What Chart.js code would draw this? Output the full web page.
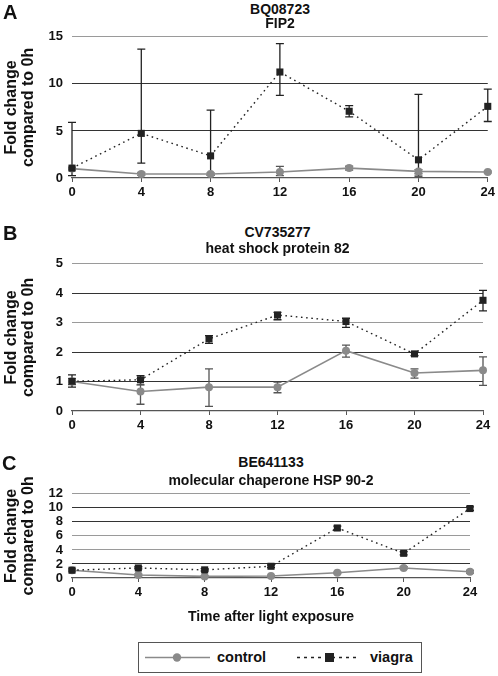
<!DOCTYPE html>
<html><head><meta charset="utf-8">
<script src="https://cdn.jsdelivr.net/npm/chart.js@4/dist/chart.umd.min.js"></script>
<style>
body{margin:0;width:498px;height:676px;position:relative;background:#fff;font-family:'Liberation Sans',Arial,sans-serif;overflow:hidden}
canvas{position:absolute;left:0;z-index:1}
.t{position:absolute;font-weight:bold;font-size:14px;line-height:14px;text-align:center;color:#111;white-space:nowrap;z-index:2}
.L{position:absolute;font-weight:bold;font-size:20px;line-height:20px;color:#111;z-index:2}
#legend{position:absolute;left:138px;top:642px;width:282px;height:29px;border:1px solid #555;z-index:2}
#legend span{position:absolute;top:7px;font-weight:bold;font-size:14.5px;line-height:15px;color:#111}
</style></head><body>
<div class="L" style="left:3px;top:2px">A</div>
<div class="L" style="left:3px;top:223px">B</div>
<div class="L" style="left:2px;top:453px">C</div>
<div class="t" style="left:72px;width:416px;top:1.5px">BQ08723</div>
<div class="t" style="left:72px;width:416px;top:16px">FIP2</div>
<div class="t" style="left:72px;width:411px;top:225px">CV735277</div>
<div class="t" style="left:72px;width:411px;top:241px">heat shock protein 82</div>
<div class="t" style="left:72px;width:398px;top:455px">BE641133</div>
<div class="t" style="left:72px;width:398px;top:473px">molecular chaperone HSP 90-2</div>
<canvas id="cA" width="498" height="180" style="top:20px"></canvas>
<canvas id="cB" width="498" height="186" style="top:247px"></canvas>
<canvas id="cC" width="498" height="150" style="top:477px"></canvas>
<div id="legend">
<svg width="282" height="29" style="position:absolute;left:0;top:0">
<line x1="6" y1="14.5" x2="71" y2="14.5" stroke="#8a8a8a" stroke-width="1.5"/>
<circle cx="38" cy="14.5" r="4.2" fill="#8a8a8a"/>
<line x1="158" y1="14.5" x2="221" y2="14.5" stroke="#222" stroke-width="1.5" stroke-dasharray="3,4"/>
<rect x="186" y="10" width="9" height="9" fill="#222"/>
</svg>
<span style="left:78px">control</span>
<span style="left:231px">viagra</span>
</div>
<script>
// ---- data ----
const hours = [0, 4, 8, 12, 16, 20, 24];

const aViagra   = [1.05, 4.74, 2.35, 11.26, 7.09, 1.93, 7.61];
const aViagraHi = [5.9, 13.7, 7.2, 14.28, 7.68, 8.88, 9.44];
const aViagraLo = [0.25, 1.58, 0.3, 8.77, 6.5, 0.2, 6.0];
const aControl   = [1.0, 0.42, 0.42, 0.63, 1.05, 0.7, 0.63];
const aControlHi = [1.1, 0.6, 0.55, 1.23, 1.25, 0.9, 0.72];
const aControlLo = [0.9, 0.28, 0.3, 0.25, 0.85, 0.45, 0.55];
const aYTicks = [0, 5, 10, 15];

const bViagra   = [1.01, 1.06, 2.45, 3.26, 3.04, 1.94, 3.76];
const bViagraHi = [1.23, 1.2, 2.56, 3.35, 3.15, 2.0, 4.1];
const bViagraLo = [0.81, 0.89, 2.3, 3.1, 2.84, 1.88, 3.4];
const bControl   = [1.0, 0.66, 0.81, 0.81, 2.05, 1.29, 1.38];
const bControlHi = [1.1, 1.1, 1.43, 0.98, 2.24, 1.43, 1.84];
const bControlLo = [0.9, 0.23, 0.16, 0.62, 1.83, 1.12, 0.87];
const bYTicks = [0, 1, 2, 3, 4, 5];

const cViagra   = [1.11, 1.43, 1.16, 1.67, 7.13, 3.52, 9.9];
const cViagraHi = [1.3, 1.6, 1.35, 1.85, 7.4, 3.75, 10.15];
const cViagraLo = [0.95, 1.3, 1.0, 1.5, 6.9, 3.3, 9.65];
const cControl   = [1.1, 0.42, 0.23, 0.28, 0.74, 1.43, 0.88];
const cControlHi = [1.2, 0.55, 0.3, 0.38, 0.85, 1.6, 1.1];
const cControlLo = [1.0, 0.3, 0.15, 0.18, 0.63, 1.3, 0.7];
const cYTicks = [0, 2, 4, 6, 8, 10, 12];

const seriesNames = ['viagra', 'control'];
const yTitle = ['Fold change', 'compared to 0h'];
const xTitle = 'Time after light exposure';

// ---- rendering ----
const FAM = "'Liberation Sans', Arial, sans-serif";
const errorBars = {
  id: 'errorBars',
  beforeDatasetsDraw(chart) {
    const {ctx, scales: {x, y}} = chart;
    ctx.save();
    chart.data.datasets.forEach(ds => {
      ctx.strokeStyle = ds.errColor;
      ctx.lineWidth = 1.3;
      ds.data.forEach((p, i) => {
        const px = x.getPixelForValue(p.x);
        const yh = y.getPixelForValue(ds.hi[i]);
        const yl = y.getPixelForValue(ds.lo[i]);
        ctx.beginPath();
        ctx.moveTo(px, yh); ctx.lineTo(px, yl);
        ctx.moveTo(px - 4, yh); ctx.lineTo(px + 4, yh);
        ctx.moveTo(px - 4, yl); ctx.lineTo(px + 4, yl);
        ctx.stroke();
      });
    });
    ctx.restore();
  }
};

function pts(vals) { return hours.map((h, i) => ({x: h, y: vals[i]})); }

function makePanel(id, v, vHi, vLo, c, cHi, cLo, yTicks, grayLines, xHeight, withXTitle) {
  const ymax = yTicks[yTicks.length - 1];
  new Chart(document.getElementById(id), {
    type: 'line',
    data: {
      datasets: [
        {label: seriesNames[0], data: pts(v), hi: vHi, lo: vLo, errColor: '#222',
         borderColor: '#222', borderWidth: 1.4, borderDash: [1.6, 3.6], pointStyle: 'rect',
         pointRadius: 5, pointBackgroundColor: '#222', pointBorderColor: '#222', pointBorderWidth: 0,
         clip: false, tension: 0},
        {label: seriesNames[1], data: pts(c), hi: cHi, lo: cLo, errColor: '#555',
         borderColor: '#8a8a8a', borderWidth: 1.6, pointStyle: 'circle',
         pointRadius: 4, pointBackgroundColor: '#8a8a8a', pointBorderColor: '#8a8a8a', pointBorderWidth: 0,
         clip: false, tension: 0}
      ]
    },
    options: {
      responsive: false, animation: false, devicePixelRatio: 1,
      layout: {padding: {top: 16, right: id === 'cA' ? 10 : (id === 'cB' ? 15 : 28), left: 0, bottom: 0}},
      plugins: {legend: {display: false}, tooltip: {enabled: false}, title: {display: false}},
      scales: {
        x: {
          type: 'linear', min: 0, max: 24,
          afterBuildTicks: s => { s.ticks = hours.map(h => ({value: h})); },
          afterFit: s => { s.height = xHeight; },
          border: {display: true, color: '#555', width: 1.2},
          grid: {drawOnChartArea: false, drawTicks: true, tickLength: 4, color: '#555'},
          ticks: {padding: 3, color: '#111', maxRotation: 0, autoSkip: false,
                  font: {size: 13, weight: 'bold', family: FAM}},
          title: {display: withXTitle, text: xTitle, color: '#111',
                  font: {size: 14, weight: 'bold', family: FAM}, padding: {top: 0, bottom: 1}}
        },
        y: {
          min: 0, max: ymax,
          afterBuildTicks: s => { s.ticks = yTicks.map(t => ({value: t})); },
          afterFit: s => { s.width = 72; },
          border: {display: false},
          grid: {drawTicks: false, lineWidth: 1,
                 color: ctx => (ctx.tick && ctx.tick.value === 0) ? 'rgba(0,0,0,0)' :
                   (ctx.tick && grayLines.includes(ctx.tick.value) ? '#9a9a9a' : '#333')},
          ticks: {padding: 9, color: '#111', autoSkip: false,
                  font: {size: 13, weight: 'bold', family: FAM}},
          title: {display: true, text: yTitle, color: '#111',
                  font: {size: 16, weight: 'bold', family: FAM, lineHeight: 1.05},
                  padding: {top: 3, bottom: 0}}
        }
      }
    },
    plugins: [errorBars]
  });
}

makePanel('cA', aViagra, aViagraHi, aViagraLo, aControl, aControlHi, aControlLo, aYTicks, [15], 22, false);
makePanel('cB', bViagra, bViagraHi, bViagraLo, bControl, bControlHi, bControlLo, bYTicks, [3, 5], 22, false);
makePanel('cC', cViagra, cViagraHi, cViagraLo, cControl, cControlHi, cControlLo, cYTicks, [4, 6, 12], 49, true);
</script>
</body></html>
